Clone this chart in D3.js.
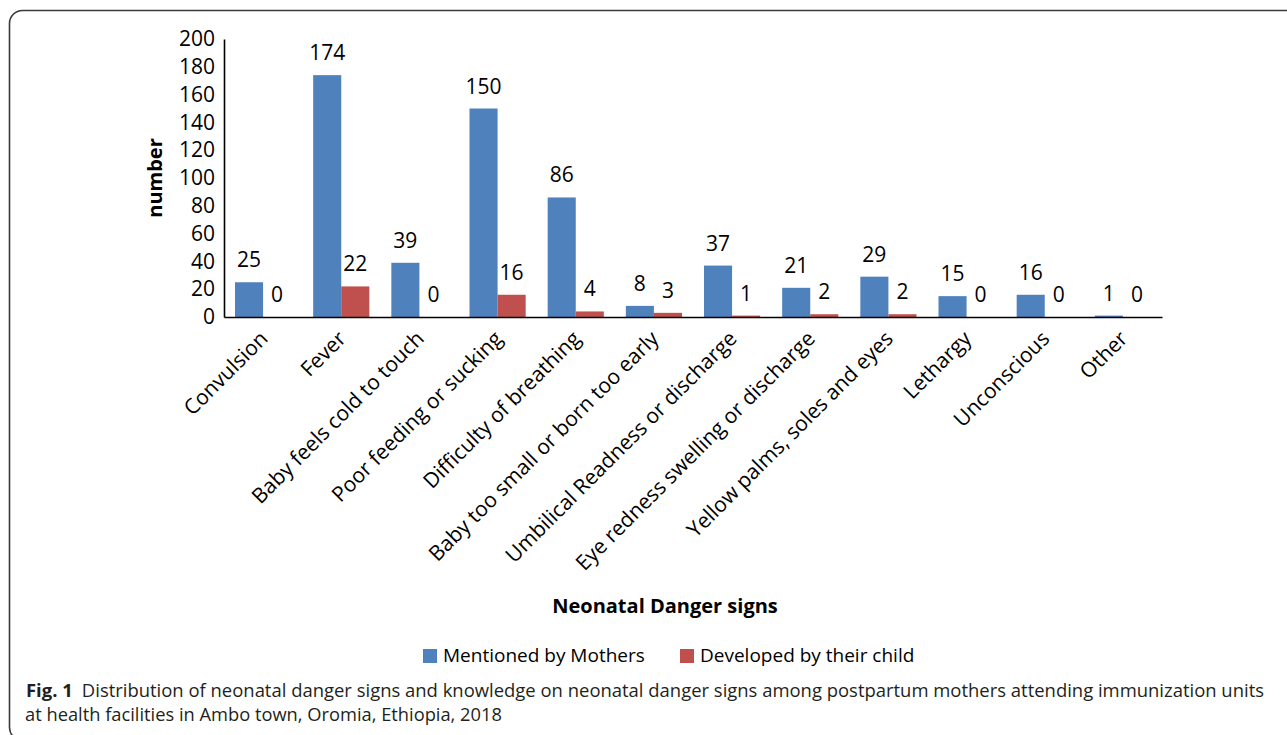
<!DOCTYPE html>
<html>
<head>
<meta charset="utf-8">
<script src="https://cdn.jsdelivr.net/npm/d3@7"></script>
<style>
  body { margin: 0; background: #fff; }
  svg { display: block; }
  .chart text { font-family: "Open Sans", sans-serif; fill: #000; }
  .caption text { font-family: "Open Sans", sans-serif; fill: #231f20; }
</style>
</head>
<body>
<script>
// data
var categories = ["Convulsion", "Fever", "Baby feels cold to touch", "Poor feeding or sucking",
  "Difficulty of breathing", "Baby too small or born too early", "Umbilical Readness or discharge",
  "Eye redness swelling or discharge", "Yellow palms, soles and eyes", "Lethargy", "Unconscious", "Other"];
var mentioned = [25, 174, 39, 150, 86, 8, 37, 21, 29, 15, 16, 1];
var developed = [0, 22, 0, 16, 4, 3, 1, 2, 2, 0, 0, 0];
var seriesNames = ["Mentioned by Mothers", "Developed by their child"];
var yTicks = [0, 20, 40, 60, 80, 100, 120, 140, 160, 180, 200];

var colors = ["#4F81BD", "#C0504D"];

var W = 1287, H = 735;
var svg = d3.select("body").append("svg")
    .attr("width", W)
    .attr("height", H);

// frame round the figure
svg.append("rect")
    .attr("x", 9.5).attr("y", 10.5)
    .attr("width", 1300).attr("height", 730)
    .attr("rx", 13).attr("ry", 13)
    .attr("fill", "none")
    .attr("stroke", "#3a3a3a")
    .attr("stroke-width", 1.6);

// plot area
var x0 = 224, x1 = 1162, y0 = 317, y1 = 39;

var x = d3.scaleBand()
    .domain(categories)
    .range([x0, x1])
    .paddingInner(0)
    .paddingOuter(0);

var xs = d3.scaleBand()
    .domain([0, 1])
    .range([11, x.bandwidth() - 11]);

var y = d3.scaleLinear()
    .domain([0, 200])
    .range([y0, y1]);

var g = svg.append("g").attr("class", "chart");

// bars
var rows = categories.map(function(c, i) {
  return {cat: c, vals: [mentioned[i], developed[i]]};
});

var grp = g.selectAll(".grp")
    .data(rows)
  .enter().append("g")
    .attr("class", "grp")
    .attr("transform", d => "translate(" + x(d.cat) + ",0)");

grp.selectAll("rect")
    .data(d => d.vals.map((v, k) => ({v: v, k: k})))
  .enter().append("rect")
    .attr("x", d => xs(d.k))
    .attr("width", xs.bandwidth())
    .attr("y", d => y(d.v))
    .attr("height", d => y0 - y(d.v))
    .attr("fill", d => colors[d.k]);

// value labels
grp.selectAll(".val")
    .data(d => d.vals.map((v, k) => ({v: v, k: k})))
  .enter().append("text")
    .attr("class", "val")
    .attr("x", d => xs(d.k) + xs.bandwidth() / 2)
    .attr("y", d => y(d.v) - 15)
    .attr("text-anchor", "middle")
    .style("font-size", "21px")
    .text(d => d.v);

// y axis
var yAxis = g.append("g")
    .attr("transform", "translate(" + x0 + ",0)")
    .call(d3.axisLeft(y).tickValues(yTicks).tickSize(0).tickPadding(9));
yAxis.select(".domain").attr("stroke", "#000").attr("stroke-width", 1.6);
yAxis.selectAll("text").style("font-size", "21px").attr("fill", "#000");

// x axis
var xAxis = g.append("g")
    .attr("transform", "translate(0," + y0 + ")")
    .call(d3.axisBottom(x).tickSize(0).tickSizeOuter(0));
xAxis.select(".domain").attr("stroke", "#000").attr("stroke-width", 1.6);
xAxis.selectAll("text")
    .style("font-size", "21px")
    .attr("fill", "#000")
    .attr("text-anchor", "end")
    .attr("x", 0).attr("y", 0).attr("dy", 0)
    .attr("transform", "translate(6,23) rotate(-45)");

// axis titles
g.append("text")
    .attr("transform", "translate(162,178) rotate(-90)")
    .attr("text-anchor", "middle")
    .style("font-size", "20px")
    .style("font-weight", "bold")
    .text("number");

g.append("text")
    .attr("x", 665).attr("y", 613)
    .attr("text-anchor", "middle")
    .style("font-size", "20px")
    .style("font-weight", "bold")
    .text("Neonatal Danger signs");

// legend
var legX = [423, 680];
var leg = g.selectAll(".leg")
    .data(seriesNames)
  .enter().append("g")
    .attr("class", "leg")
    .attr("transform", (d, i) => "translate(" + legX[i] + ",649)");
leg.append("rect")
    .attr("width", 14).attr("height", 14)
    .attr("fill", (d, i) => colors[i]);
leg.append("text")
    .attr("x", 20).attr("y", 13)
    .style("font-size", "19px")
    .text(d => d);

// caption
var cap = svg.append("g").attr("class", "caption");
var line1 = cap.append("text")
    .attr("x", 26).attr("y", 697)
    .attr("textLength", 1238)
    .attr("lengthAdjust", "spacingAndGlyphs")
    .style("font-size", "18.3px");
line1.append("tspan").style("font-weight", "bold").text("Fig. 1");
line1.append("tspan").attr("dx", 9)
    .text("Distribution of neonatal danger signs and knowledge on neonatal danger signs among postpartum mothers attending immunization units");
cap.append("text")
    .attr("x", 25).attr("y", 721)
    .style("font-size", "18.3px")
    .text("at health facilities in Ambo town, Oromia, Ethiopia, 2018");
</script>
</body>
</html>
